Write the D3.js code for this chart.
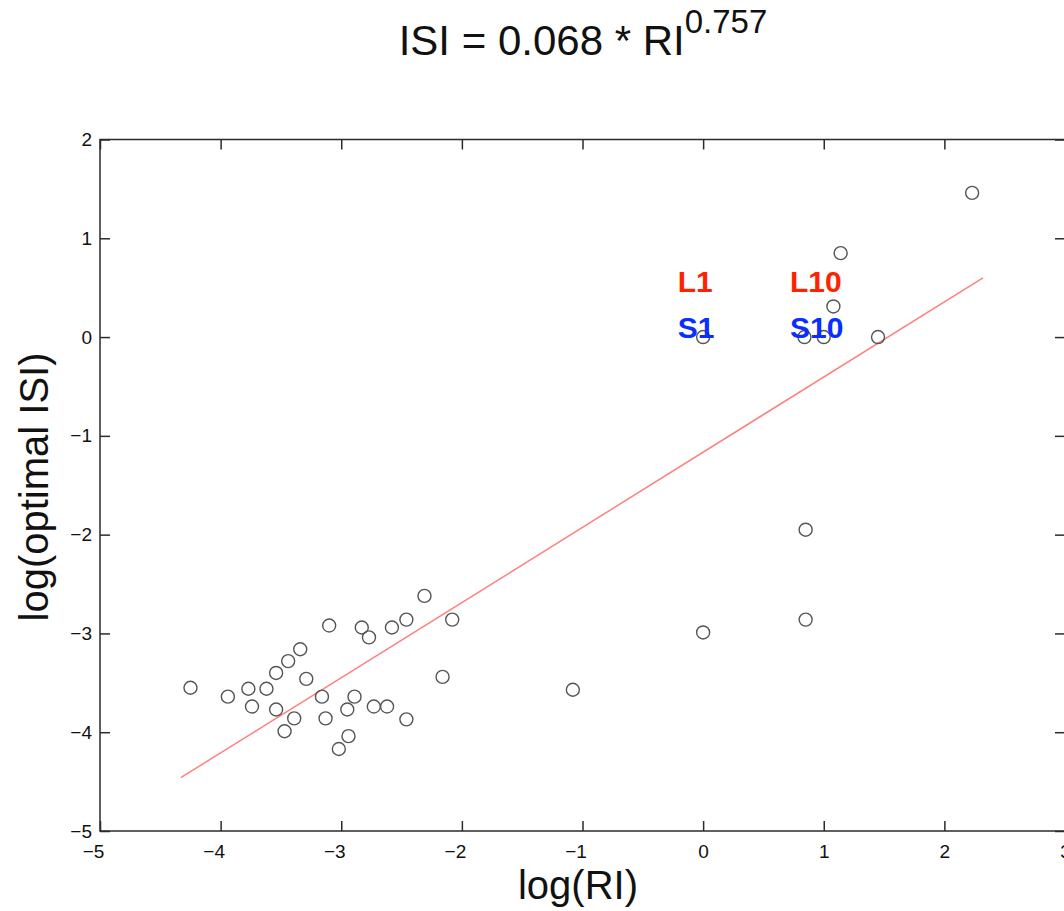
<!DOCTYPE html>
<html>
<head>
<meta charset="utf-8">
<script src="https://cdn.jsdelivr.net/npm/d3@7"></script>
<style>
  body { margin: 0; background: #fff; }
  svg { display: block; font-family: "Liberation Sans", Arial, Helvetica, sans-serif; }
</style>
</head>
<body>
<svg id="chart" width="1064" height="911"></svg>
<script>
// log(RI) and log(optimal ISI) for each study
const logRI = [
    -4.25, -3.94, -3.77, -3.74, -3.62, -3.54, -3.54, -3.44, -3.39, -3.47,
    -3.34, -3.29, -3.16, -3.13, -3.10, -3.02, -2.95, -2.94, -2.89, -2.83,
    -2.77, -2.73, -2.62, -2.58, -2.46, -2.46, -2.31, -2.16, -2.08, -1.08,
    0.00, 0.85, 0.85, 0.00, 0.84, 1.00, 1.45, 1.08, 1.14, 2.23
];
const logISI = [
    -3.55, -3.64, -3.56, -3.74, -3.56, -3.40, -3.77, -3.28, -3.86, -3.99,
    -3.16, -3.46, -3.64, -3.86, -2.92, -4.17, -3.77, -4.04, -3.64, -2.94,
    -3.04, -3.74, -3.74, -2.94, -2.86, -3.87, -2.62, -3.44, -2.86, -3.57,
    -2.99, -2.86, -1.95, 0.00, 0.00, 0.00, 0.00, 0.31, 0.85, 1.46
];

// fitted regression line, end points
const fitX = [-4.33, 2.32];
const fitY = [-4.46, 0.60];

// condition labels
const labelText = ["L1", "L10", "S1", "S10"];
const labelX = [-0.21, 0.72, -0.21, 0.72];
const labelY = [0.46, 0.46, -0.01, -0.01];
const labelColor = ["#ff2200", "#ff2200", "#0a2eff", "#0a2eff"];

const xTicks = [-5, -4, -3, -2, -1, 0, 1, 2, 3];
const yTicks = [-5, -4, -3, -2, -1, 0, 1, 2];

const svg = d3.select("#chart");

const x = d3.scaleLinear().domain([-5, 3]).range([100, 1065]);
const y = d3.scaleLinear().domain([-5, 2]).range([831, 139.5]);
const fmt = d3.format("d");

// frame
svg.append("rect")
    .attr("x", x(-5))
    .attr("y", y(2))
    .attr("width", x(3) - x(-5))
    .attr("height", y(-5) - y(2))
    .attr("fill", "none")
    .attr("stroke", "#2b2b2b")
    .attr("stroke-width", 1.5);

// axes with inward ticks
const bottom = svg.append("g")
    .attr("transform", `translate(0,${y(-5)})`)
    .call(d3.axisBottom(x).tickValues(xTicks).tickFormat(fmt)
        .tickSizeInner(-10).tickSizeOuter(0).tickPadding(14));
bottom.selectAll("text").attr("dx", d => d < 0 ? -7 : 0);

svg.append("g")
    .attr("transform", `translate(${x(-5)},0)`)
    .call(d3.axisLeft(y).tickValues(yTicks).tickFormat(fmt)
        .tickSizeInner(-10).tickSizeOuter(0).tickPadding(8));

svg.append("g")
    .attr("transform", `translate(0,${y(2)})`)
    .call(d3.axisTop(x).tickValues(xTicks).tickSizeInner(-10).tickSizeOuter(0).tickFormat(""));

svg.append("g")
    .attr("transform", `translate(${x(3)},0)`)
    .call(d3.axisRight(y).tickValues(yTicks).tickSizeInner(-10).tickSizeOuter(0).tickFormat(""));

svg.selectAll(".domain").remove();
svg.selectAll(".tick line").attr("stroke", "#2b2b2b").attr("stroke-width", 1.5);
svg.selectAll(".tick text")
    .attr("font-size", 19)
    .attr("font-family", "\"Liberation Sans\", Arial, sans-serif")
    .attr("fill", "#111");

// regression line
svg.append("line")
    .attr("x1", x(fitX[0]))
    .attr("y1", y(fitY[0]))
    .attr("x2", x(fitX[1]))
    .attr("y2", y(fitY[1]))
    .attr("stroke", "#ff8080")
    .attr("stroke-width", 1.5);

// data points
svg.append("g")
    .selectAll("circle")
    .data(logRI)
    .join("circle")
    .attr("cx", d => x(d))
    .attr("cy", (d, i) => y(logISI[i]))
    .attr("r", 6.5)
    .attr("fill", "none")
    .attr("stroke", "#555")
    .attr("stroke-width", 1.4);

// labels
svg.append("g")
    .selectAll("text")
    .data(labelText)
    .join("text")
    .attr("x", (d, i) => x(labelX[i]))
    .attr("y", (d, i) => y(labelY[i]))
    .attr("fill", (d, i) => labelColor[i])
    .attr("font-size", 30)
    .attr("font-weight", "bold")
    .text(d => d);

// title
const title = svg.append("text")
    .attr("x", 583)
    .attr("y", 55)
    .attr("text-anchor", "middle")
    .attr("font-size", 42)
    .attr("fill", "#111");
title.append("tspan").text("ISI = 0.068 * RI");
title.append("tspan").attr("dy", -22).attr("font-size", 33).text("0.757");

// axis labels
svg.append("text")
    .attr("x", 578)
    .attr("y", 899)
    .attr("text-anchor", "middle")
    .attr("font-size", 40)
    .attr("fill", "#111")
    .text("log(RI)");

svg.append("text")
    .attr("transform", "translate(48,487) rotate(-90)")
    .attr("text-anchor", "middle")
    .attr("font-size", 40)
    .attr("fill", "#111")
    .text("log(optimal ISI)");
</script>
</body>
</html>
